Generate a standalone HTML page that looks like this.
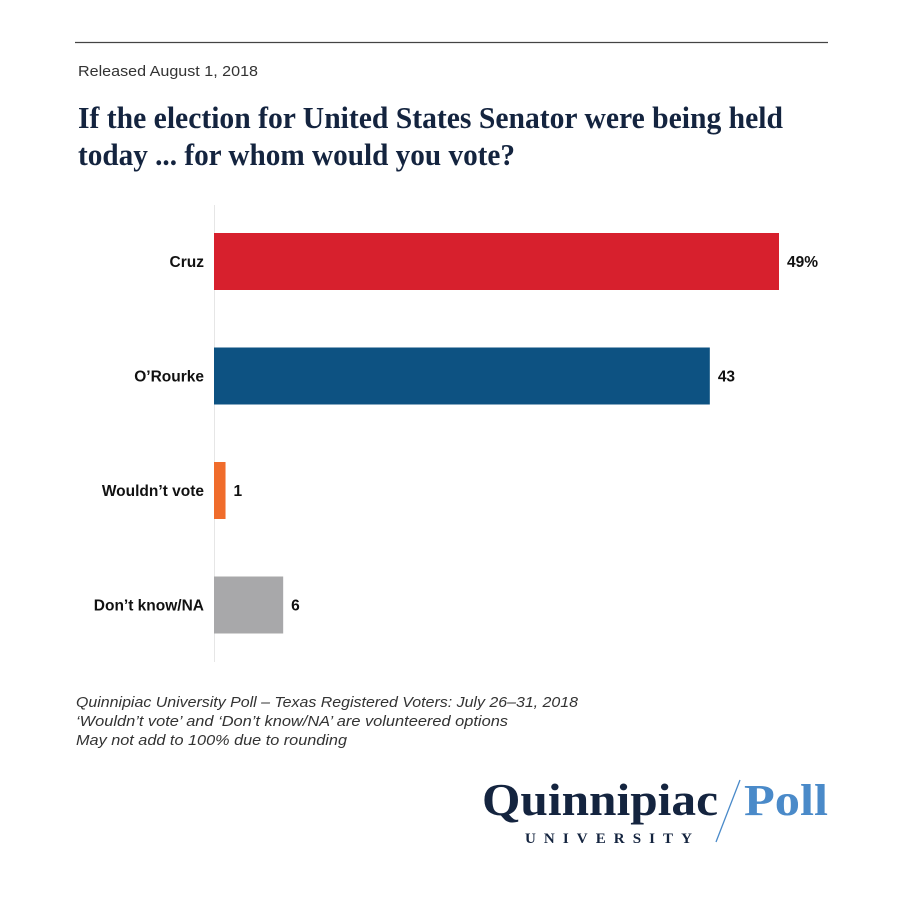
<!DOCTYPE html>
<html><head><meta charset="utf-8"><style>
body{margin:0;background:#fff;}
svg{display:block;font-family:"Liberation Sans",sans-serif;}
</style></head><body>
<svg width="901" height="900" viewBox="0 0 901 900">
<rect width="901" height="900" fill="#fff"/>
<line x1="75" y1="42.5" x2="828" y2="42.5" stroke="#444" stroke-width="1.2"/>
<text x="78" y="76" font-size="15" fill="#333" textLength="180" lengthAdjust="spacingAndGlyphs">Released August 1, 2018</text>
<g font-family="'Liberation Serif',serif" font-weight="bold" font-size="31" fill="#14243f">
<text x="78" y="128" textLength="705" lengthAdjust="spacingAndGlyphs">If the election for United States Senator were being held</text>
<text x="78" y="165" textLength="437" lengthAdjust="spacingAndGlyphs">today ... for whom would you vote?</text>
</g>
<line x1="214.5" y1="205" x2="214.5" y2="662" stroke="#e6e6e6" stroke-width="1"/>
<g id="bars"></g>
<g font-size="15" font-style="italic" fill="#333">
<text x="76" y="707" textLength="502" lengthAdjust="spacingAndGlyphs">Quinnipiac University Poll – Texas Registered Voters: July 26–31, 2018</text>
<text x="76" y="726" textLength="432" lengthAdjust="spacingAndGlyphs">‘Wouldn’t vote’ and ‘Don’t know/NA’ are volunteered options</text>
<text x="76" y="745" textLength="271" lengthAdjust="spacingAndGlyphs">May not add to 100% due to rounding</text>
</g>
<g>
<text x="482" y="815" font-family="'Liberation Serif',serif" font-weight="bold" font-size="46" fill="#14243f" textLength="236" lengthAdjust="spacingAndGlyphs">Quinnipiac</text>
<line x1="740" y1="780" x2="716" y2="842" stroke="#4a8ac9" stroke-width="1.3"/>
<text x="744" y="815" font-family="'Liberation Serif',serif" font-weight="bold" font-size="44" fill="#4a8ac9" textLength="84" lengthAdjust="spacingAndGlyphs">Poll</text>
<text x="525" y="843" font-family="'Liberation Serif',serif" font-weight="bold" font-size="15" fill="#14243f" textLength="167" lengthAdjust="spacing">UNIVERSITY</text>
</g>
</svg>
<script>
const categories=["Cruz","O’Rourke","Wouldn’t vote","Don’t know/NA"];
const values=[49,43,1,6];
const valueLabels=["49%","43","1","6"];
const colors=["#d7202d","#0d5282","#f06c2b","#a8a8aa"];
const x0=214,pxPerUnit=565/49,top0=233,step=114.5,barH=57;
function xs(v){return x0+v*pxPerUnit;}
function ys(i){return top0+i*step;}
const g=document.getElementById('bars');
const NS="http://www.w3.org/2000/svg";
categories.forEach((c,i)=>{
const r=document.createElementNS(NS,'rect');
r.setAttribute('x',x0);r.setAttribute('y',ys(i));
r.setAttribute('width',xs(values[i])-x0);r.setAttribute('height',barH);
r.setAttribute('fill',colors[i]);


g.appendChild(r);
const l=document.createElementNS(NS,'text');
l.setAttribute('x',204);l.setAttribute('y',ys(i)+barH/2+5.5);
l.setAttribute('text-anchor','end');l.setAttribute('font-size','15.5');
l.setAttribute('font-weight','bold');l.setAttribute('fill','#111');
l.textContent=c;


g.appendChild(l);
const v=document.createElementNS(NS,'text');
v.setAttribute('x',xs(values[i])+8);v.setAttribute('y',ys(i)+barH/2+5.5);
v.setAttribute('font-size','15.5');v.setAttribute('font-weight','bold');v.setAttribute('fill','#111');
v.textContent=valueLabels[i];


g.appendChild(v);
});
</script>
</body></html>
